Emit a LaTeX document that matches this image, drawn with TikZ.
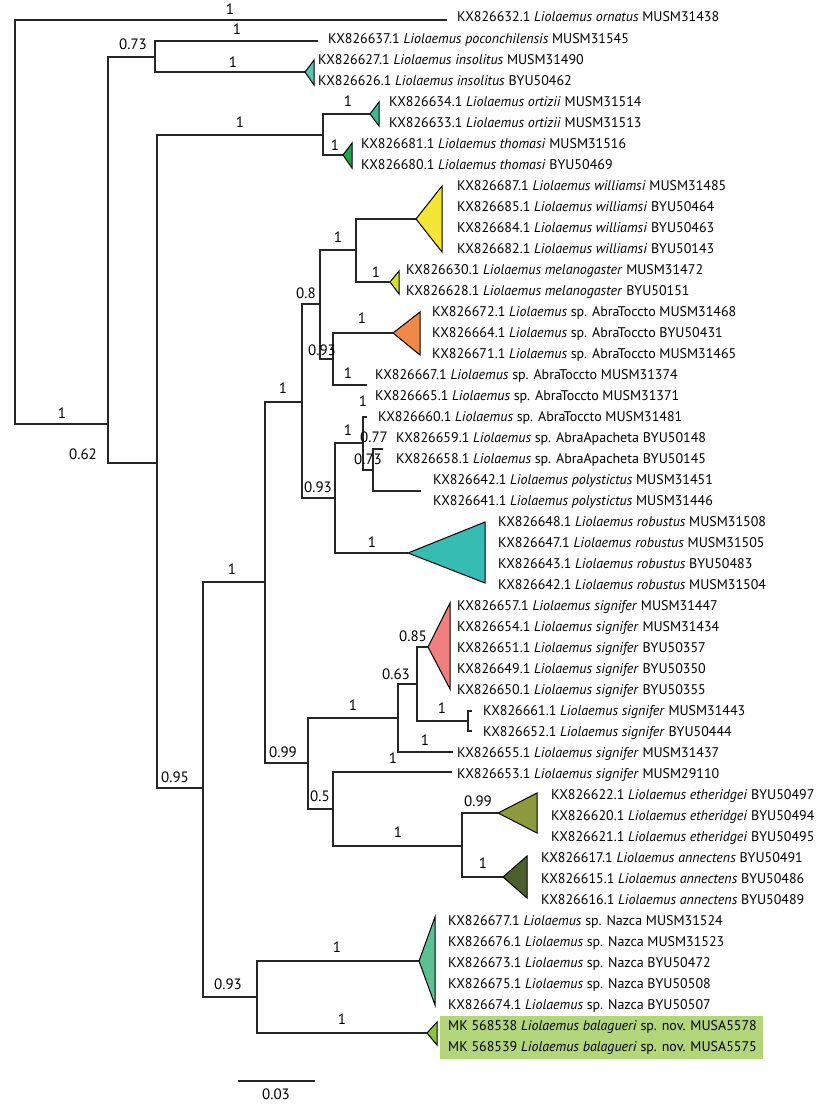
\documentclass[tikz,border=0pt]{standalone}
\usepackage{fontspec}
\setmainfont{PT Sans}
\definecolor{cIns}{HTML}{5CC3AE}
\definecolor{cOrt}{HTML}{3DBB90}
\definecolor{cTho}{HTML}{1FA64A}
\definecolor{cWil}{HTML}{F5E535}
\definecolor{cMel}{HTML}{D2DE3A}
\definecolor{cAbr}{HTML}{F08848}
\definecolor{cRob}{HTML}{36BCB2}
\definecolor{cSig}{HTML}{F08080}
\definecolor{cEth}{HTML}{8C9A3C}
\definecolor{cAnn}{HTML}{4E5F2E}
\definecolor{cNaz}{HTML}{5CC092}
\definecolor{cBal}{HTML}{8CC63F}
\definecolor{cBox}{HTML}{B3D67A}
\newcommand\leafrow[3]{\node[leaf] (t#1) at (#2,{19.5+21.02*#1}) {#3};}
\newcommand\cladetri[6]{\draw[tri,fill=#6] (#1) -- (#3,#4) -- (#3,#5) -- cycle;}
\begin{document}
\begin{tikzpicture}[x=1pt,y=-1pt,
  br/.style={draw=black!85,line width=1.3pt},
  tri/.style={draw=black,line width=1pt,line join=miter},
  leaf/.style={anchor=mid west,inner sep=0pt,font=\fontsize{14}{16}\selectfont},
  bs/.style={inner sep=0pt,font=\fontsize{15}{17}\selectfont}]
\useasboundingbox (0,0) rectangle (825,1110);
% background box for the new species
\fill[cBox] (440,1016) rectangle (763,1059);
% tips
\coordinate (orn) at (447,20);
\coordinate (poc) at (318,41);
\coordinate (ins) at (305,72);
\coordinate (ort) at (370,114);
\coordinate (tho) at (343,155);
\coordinate (wil) at (416,219);
\coordinate (mel) at (390,282);
\coordinate (abr) at (393,333);
\coordinate (l374) at (367,385);
\coordinate (l481) at (367,417);
\coordinate (apa) at (383,449);
\coordinate (pol) at (421,491);
\coordinate (rob) at (408,553);
\coordinate (sig) at (428,647);
\coordinate (s661) at (472,711);
\coordinate (s652) at (472,731);
\coordinate (s437) at (453,752);
\coordinate (s110) at (452,772);
\coordinate (eth) at (498,813);
\coordinate (ann) at (503,877);
\coordinate (naz) at (419,961);
\coordinate (bal) at (427,1033);
% internal nodes
\coordinate (root) at (15,222);
\coordinate (na) at (108,424);
\coordinate (n073) at (155,57);
\coordinate (nb) at (157,463);
\coordinate (not) at (323,135);
\coordinate (nc) at (203,788);
\coordinate (nd) at (265,582);
\coordinate (ne) at (302,402);
\coordinate (nf) at (320,304);
\coordinate (ng) at (356,250);
\coordinate (nh) at (333,359);
\coordinate (ni) at (335,498);
\coordinate (nj) at (363,443);
\coordinate (nk) at (373,470);
\coordinate (nl) at (308,763);
\coordinate (nm) at (398,718);
\coordinate (nn) at (417,684);
\coordinate (ns) at (468,721);
\coordinate (no) at (333,809);
\coordinate (np) at (462,846);
\coordinate (nq) at (257,997);
% branches
\draw[br] (root) |- (orn);  \draw[br] (root) |- (na);
\draw[br] (na) |- (n073);   \draw[br] (na) |- (nb);
\draw[br] (n073) |- (poc);  \draw[br] (n073) |- (ins);
\draw[br] (nb) |- (not);    \draw[br] (nb) |- (nc);
\draw[br] (not) |- (ort);   \draw[br] (not) |- (tho);
\draw[br] (nc) |- (nd);     \draw[br] (nc) |- (nq);
\draw[br] (nd) |- (ne);     \draw[br] (nd) |- (nl);
\draw[br] (ne) |- (nf);     \draw[br] (ne) |- (ni);
\draw[br] (nf) |- (ng);     \draw[br] (nf) |- (nh);
\draw[br] (ng) |- (wil);    \draw[br] (ng) |- (mel);
\draw[br] (nh) |- (abr);    \draw[br] (nh) |- (l374);
\draw[br] (ni) |- (nj);     \draw[br] (ni) |- (rob);
\draw[br] (nj) |- (l481);   \draw[br] (nj) |- (nk);
\draw[br] (nk) |- (apa);    \draw[br] (nk) |- (pol);
\draw[br] (nl) |- (nm);     \draw[br] (nl) |- (no);
\draw[br] (nm) |- (nn);     \draw[br] (nm) |- (s437);
\draw[br] (nn) |- (sig);    \draw[br] (nn) |- (ns);
\draw[br] (ns) |- (s661);   \draw[br] (ns) |- (s652);
\draw[br] (no) |- (s110);   \draw[br] (no) |- (np);
\draw[br] (np) |- (eth);    \draw[br] (np) |- (ann);
\draw[br] (nq) |- (naz);    \draw[br] (nq) |- (bal);
% collapsed clades
\cladetri{ins}{}{314}{60}{85}{cIns}
\cladetri{ort}{}{379}{102}{126}{cOrt}
\cladetri{tho}{}{352}{143}{168}{cTho}
\cladetri{wil}{}{442}{186}{252}{cWil}
\cladetri{mel}{}{399}{271}{294}{cMel}
\cladetri{abr}{}{420}{312}{355}{cAbr}
\cladetri{rob}{}{485}{522}{583}{cRob}
\cladetri{sig}{}{450}{603}{689}{cSig}
\cladetri{eth}{}{537}{793}{833}{cEth}
\cladetri{ann}{}{527}{856}{898}{cAnn}
\cladetri{naz}{}{435}{917}{1005}{cNaz}
\cladetri{bal}{}{437}{1022}{1045}{cBal}
% support values
\node[bs] (b1) at (230,9) {1};
\node[bs] (b2) at (237,29) {1};
\node[bs] (b3) at (133,44) {0.73};
\node[bs] (b4) at (233,62) {1};
\node[bs] (b5) at (240,122) {1};
\node[bs] (b6) at (348,101) {1};
\node[bs] (b7) at (335,145) {1};
\node[bs] (b8) at (62,413) {1};
\node[bs] (b9) at (83,454) {0.62};
\node[bs] (b10) at (338,237) {1};
\node[bs] (b11) at (376,272) {1};
\node[bs] (b12) at (306,293) {0.8};
\node[bs] (b13) at (362,318) {1};
\node[bs] (b14) at (322,350) {0.93};
\node[bs] (b15) at (348,373) {1};
\node[bs] (b16) at (283,388) {1};
\node[bs] (b17) at (363,401) {1};
\node[bs] (b18) at (348,430) {1};
\node[bs] (b19) at (374,437) {0.77};
\node[bs] (b20) at (368,459) {0.73};
\node[bs] (b21) at (318,487) {0.93};
\node[bs] (b22) at (372,542) {1};
\node[bs] (b23) at (232,569) {1};
\node[bs] (b24) at (413,636) {0.85};
\node[bs] (b25) at (396,674) {0.63};
\node[bs] (b26) at (353,705) {1};
\node[bs] (b27) at (442,708) {1};
\node[bs] (b28) at (425,740) {1};
\node[bs] (b29) at (283,752) {0.99};
\node[bs] (b30) at (393,758) {1};
\node[bs] (b31) at (175,777) {0.95};
\node[bs] (b32) at (320,796) {0.5};
\node[bs] (b33) at (478,801) {0.99};
\node[bs] (b34) at (398,832) {1};
\node[bs] (b35) at (483,863) {1};
\node[bs] (b36) at (337,947) {1};
\node[bs] (b37) at (228,984) {0.93};
\node[bs] (b38) at (342,1019) {1};
% scale bar
\coordinate (sb1) at (238,1081);
\coordinate (sb2) at (315,1081);
\draw[br] (sb1) -- (sb2);
\node[bs] (sbl) at (276,1094) {0.03};
% leaf labels
\leafrow{0}{457}{KX826632.1 \textit{Liolaemus ornatus} MUSM31438}
\leafrow{1}{328}{KX826637.1 \textit{Liolaemus poconchilensis} MUSM31545}
\leafrow{2}{318}{KX826627.1 \textit{Liolaemus insolitus} MUSM31490}
\leafrow{3}{318}{KX826626.1 \textit{Liolaemus insolitus} BYU50462}
\leafrow{4}{389}{KX826634.1 \textit{Liolaemus ortizii} MUSM31514}
\leafrow{5}{389}{KX826633.1 \textit{Liolaemus ortizii} MUSM31513}
\leafrow{6}{361}{KX826681.1 \textit{Liolaemus thomasi} MUSM31516}
\leafrow{7}{361}{KX826680.1 \textit{Liolaemus thomasi} BYU50469}
\leafrow{8}{457}{KX826687.1 \textit{Liolaemus williamsi} MUSM31485}
\leafrow{9}{457}{KX826685.1 \textit{Liolaemus williamsi} BYU50464}
\leafrow{10}{457}{KX826684.1 \textit{Liolaemus williamsi} BYU50463}
\leafrow{11}{457}{KX826682.1 \textit{Liolaemus williamsi} BYU50143}
\leafrow{12}{406}{KX826630.1 \textit{Liolaemus melanogaster} MUSM31472}
\leafrow{13}{406}{KX826628.1 \textit{Liolaemus melanogaster} BYU50151}
\leafrow{14}{432}{KX826672.1 \textit{Liolaemus} sp. AbraToccto MUSM31468}
\leafrow{15}{432}{KX826664.1 \textit{Liolaemus} sp. AbraToccto BYU50431}
\leafrow{16}{432}{KX826671.1 \textit{Liolaemus} sp. AbraToccto MUSM31465}
\leafrow{17}{375}{KX826667.1 \textit{Liolaemus} sp. AbraToccto MUSM31374}
\leafrow{18}{375}{KX826665.1 \textit{Liolaemus} sp. AbraToccto MUSM31371}
\leafrow{19}{378}{KX826660.1 \textit{Liolaemus} sp. AbraToccto MUSM31481}
\leafrow{20}{396}{KX826659.1 \textit{Liolaemus} sp. AbraApacheta BYU50148}
\leafrow{21}{396}{KX826658.1 \textit{Liolaemus} sp. AbraApacheta BYU50145}
\leafrow{22}{433}{KX826642.1 \textit{Liolaemus polystictus} MUSM31451}
\leafrow{23}{433}{KX826641.1 \textit{Liolaemus polystictus} MUSM31446}
\leafrow{24}{498}{KX826648.1 \textit{Liolaemus robustus} MUSM31508}
\leafrow{25}{498}{KX826647.1 \textit{Liolaemus robustus} MUSM31505}
\leafrow{26}{498}{KX826643.1 \textit{Liolaemus robustus} BYU50483}
\leafrow{27}{498}{KX826642.1 \textit{Liolaemus robustus} MUSM31504}
\leafrow{28}{457}{KX826657.1 \textit{Liolaemus signifer} MUSM31447}
\leafrow{29}{457}{KX826654.1 \textit{Liolaemus signifer} MUSM31434}
\leafrow{30}{457}{KX826651.1 \textit{Liolaemus signifer} BYU50357}
\leafrow{31}{457}{KX826649.1 \textit{Liolaemus signifer} BYU50350}
\leafrow{32}{457}{KX826650.1 \textit{Liolaemus signifer} BYU50355}
\leafrow{33}{483}{KX826661.1 \textit{Liolaemus signifer} MUSM31443}
\leafrow{34}{483}{KX826652.1 \textit{Liolaemus signifer} BYU50444}
\leafrow{35}{457}{KX826655.1 \textit{Liolaemus signifer} MUSM31437}
\leafrow{36}{457}{KX826653.1 \textit{Liolaemus signifer} MUSM29110}
\leafrow{37}{551}{KX826622.1 \textit{Liolaemus etheridgei} BYU50497}
\leafrow{38}{551}{KX826620.1 \textit{Liolaemus etheridgei} BYU50494}
\leafrow{39}{551}{KX826621.1 \textit{Liolaemus etheridgei} BYU50495}
\leafrow{40}{541}{KX826617.1 \textit{Liolaemus annectens} BYU50491}
\leafrow{41}{541}{KX826615.1 \textit{Liolaemus annectens} BYU50486}
\leafrow{42}{541}{KX826616.1 \textit{Liolaemus annectens} BYU50489}
\leafrow{43}{448}{KX826677.1 \textit{Liolaemus} sp. Nazca MUSM31524}
\leafrow{44}{448}{KX826676.1 \textit{Liolaemus} sp. Nazca MUSM31523}
\leafrow{45}{448}{KX826673.1 \textit{Liolaemus} sp. Nazca BYU50472}
\leafrow{46}{448}{KX826675.1 \textit{Liolaemus} sp. Nazca BYU50508}
\leafrow{47}{448}{KX826674.1 \textit{Liolaemus} sp. Nazca BYU50507}
\leafrow{48}{448}{MK 568538 \textit{Liolaemus balagueri} sp. nov. MUSA5578}
\leafrow{49}{448}{MK 568539 \textit{Liolaemus balagueri} sp. nov. MUSA5575}
\end{tikzpicture}
\end{document}
